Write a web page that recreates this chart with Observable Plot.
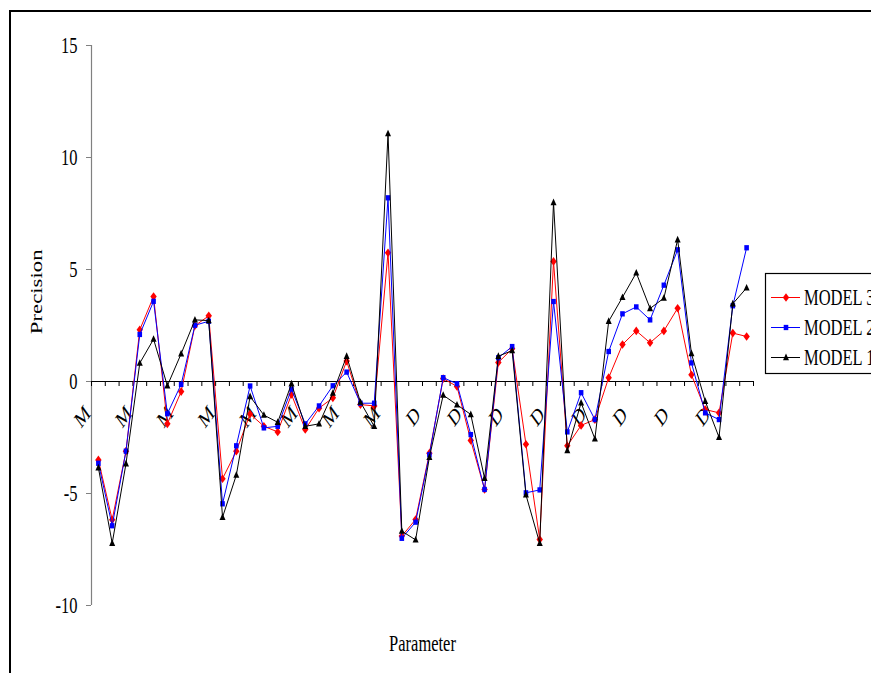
<!DOCTYPE html>
<html><head><meta charset="utf-8">
<script src="https://cdn.jsdelivr.net/npm/d3@7"></script>
<script src="https://cdn.jsdelivr.net/npm/@observablehq/plot@0.6"></script>
<style>
html,body{margin:0;padding:0;background:#fff;}
#wrap{position:relative;width:871px;height:673px;overflow:hidden;background:#fff;}
#border{position:absolute;left:9px;top:10px;width:1000px;height:1000px;border-left:2px solid #000;border-top:2px solid #000;}
#chart{position:absolute;left:0;top:0;}
#legend{position:absolute;left:0;top:0;}
</style></head><body>
<div id="wrap"><div id="border"></div><div id="chart"></div><svg id="legend" width="871" height="673"></svg></div>
<script>
// ---- data ----
const categories = [
  "M","M","M","M","M","M","M","M","M","M","M","M","M","M","M","M","M","M","M","M","M","M","M","M",
  "D","D","D","D","D","D","D","D","D","D","D","D","D","D","D","D","D","D","D","D","D","D","D","D"
];
const model3 = [-3.50,-6.17,-3.11,2.31,3.79,-1.89,-0.45,2.49,2.93,-4.34,-3.11,-1.45,-2.00,-2.25,-0.58,-2.14,-1.19,-0.73,0.91,-1.03,-1.09,5.75,-6.90,-6.16,
  -3.20,0.13,-0.22,-2.63,-4.82,0.85,1.46,-2.80,-7.05,5.36,-2.87,-1.96,-1.70,0.17,1.65,2.26,1.73,2.26,3.27,0.30,-1.25,-1.40,2.16,2.01];
const model2 = [-3.65,-6.44,-3.11,2.10,3.58,-1.44,-0.13,2.51,2.69,-5.46,-2.87,-0.20,-2.07,-2.00,-0.34,-1.89,-1.09,-0.19,0.42,-0.97,-0.97,8.20,-7.00,-6.28,
  -3.27,0.17,-0.10,-2.37,-4.82,1.06,1.56,-4.97,-4.84,3.57,-2.25,-0.50,-1.70,1.34,3.02,3.33,2.75,4.30,5.88,0.83,-1.40,-1.70,3.38,5.97];
const model1 = [-3.85,-7.22,-3.67,0.82,1.89,-0.19,1.24,2.75,2.72,-6.06,-4.18,-0.67,-1.50,-1.82,-0.10,-2.00,-1.89,-0.52,1.13,-0.92,-2.00,11.07,-6.68,-7.07,
  -3.38,-0.61,-1.04,-1.47,-4.32,1.13,1.38,-5.06,-7.22,7.99,-3.08,-0.95,-2.56,2.69,3.76,4.85,3.26,3.72,6.33,1.25,-0.88,-2.49,3.47,4.18];
const seriesNames = ["MODEL 3","MODEL 2","MODEL 1"];
const yTicks = [-10,-5,0,5,10,15];
const yTitle = "Precision";
const xTitle = "Parameter";
const labelEvery = 3;

// ---- styles ----
const colors = ["#ff0000","#0000ff","#000000"];
const FONT = "'Liberation Serif','Times New Roman',serif";
const FS = 16.5, STRETCH = 1.38;

const diamond = {draw(ctx, size){const r=Math.sqrt(size/Math.PI);const w=r,h=r*1.35;ctx.moveTo(0,-h);ctx.lineTo(w,0);ctx.lineTo(0,h);ctx.lineTo(-w,0);ctx.closePath();}};
const square = {draw(ctx, size){const r=Math.sqrt(size/Math.PI);const w=r,h=r*1.15;ctx.rect(-w,-h,2*w,2*h);}};
const triangle = {draw(ctx, size){const r=Math.sqrt(size/Math.PI);ctx.moveTo(0,-1.3*r);ctx.lineTo(r,0.9*r);ctx.lineTo(-r,0.9*r);ctx.closePath();}};
const symbols = [diamond, square, triangle];
const radii = [3.2, 2.3, 3.0];

const seriesValues = [model3, model2, model1];
const data = seriesValues.flatMap((vals, s) => vals.map((v, i) => ({series: seriesNames[s], s, i, x: i + 0.5, y: v})));
const n = categories.length;
const labelData = categories.map((c, i) => ({i, label: c})).filter(d => d.i % labelEvery === 0);

const marks = [
  Plot.ruleX([0], {stroke: "#808080", strokeWidth: 1.2}),
  Plot.axisY({ticks: yTicks, tickSize: 5, tickPadding: 9, tickFormat: d => String(d), stroke: "#808080", fill: "#000", label: null}),
  Plot.ruleY([0], {stroke: "#000", strokeWidth: 1.1}),
  Plot.ruleX(d3.range(n + 1), {x: d => d, y1: d => 0, y2: d => 0, insetTop: 5, stroke: "#000"}),
  Plot.text(labelData, {x: d => d.i + 0.5, y: d => 0, text: d => d.label, rotate: -45, dx: -16, dy: 35, fill: "#000"}),
  Plot.text([yTitle], {frameAnchor: "left", text: d => d, rotate: -90, dx: -55, dy: -3, fill: "#000"}),
  Plot.text([xTitle], {frameAnchor: "bottom", text: d => d, dy: 43, fill: "#000"})
];
seriesNames.forEach((name, s) => {
  const sd = data.filter(d => d.s === s);
  marks.push(Plot.line(sd, {x: "x", y: "y", stroke: colors[s], strokeWidth: 1}));
  marks.push(Plot.dot(sd, {x: "x", y: "y", fill: colors[s], stroke: "none", r: radii[s], symbol: symbols[s]}));
});

const chart = Plot.plot({
  width: 871, height: 673,
  marginLeft: 91, marginRight: 118, marginTop: 45, marginBottom: 68,
  x: {type: "linear", domain: [0, n], axis: null},
  y: {domain: [-10, 15], axis: null},
  style: {fontFamily: FONT, fontSize: FS + "px", background: "transparent", color: "#000", overflow: "visible"},
  marks
});
document.getElementById("chart").appendChild(chart);

// stretch text vertically (reference text is tall and narrow)
function stretchTexts(svg, k) {
  const ns = "http://www.w3.org/2000/svg";
  Array.from(svg.querySelectorAll("text")).forEach(t => {
    const parent = t.parentNode;
    const r = t.getBoundingClientRect();
    const ctm = parent.getScreenCTM();
    if (!ctm) return;
    const p = new DOMPoint(r.left + r.width / 2, r.top + r.height / 2).matrixTransform(ctm.inverse());
    const g = document.createElementNS(ns, "g");
    parent.insertBefore(g, t);
    g.appendChild(t);
    g.setAttribute("transform", `translate(0,${p.y}) scale(1,${k}) translate(0,${-p.y})`);
  });
}
stretchTexts(chart, STRETCH);

// legend
const leg = d3.select("#legend");
leg.append("rect").attr("x", 765.5).attr("y", 273.5).attr("width", 200).attr("height", 100)
  .attr("fill", "#fff").attr("stroke", "#000").attr("stroke-width", 1.2);
seriesNames.forEach((name, s) => {
  const y = 297 + 30 * s;
  leg.append("line").attr("x1", 771).attr("x2", 800).attr("y1", y + 0.5).attr("y2", y + 0.5)
    .attr("stroke", colors[s]).attr("stroke-width", 1);
  leg.append("path").attr("d", d3.symbol(symbols[s], Math.PI * radii[s] * radii[s])())
    .attr("transform", `translate(786,${y + 0.5})`).attr("fill", colors[s]);
  leg.append("text").text(name)
    .attr("transform", `translate(804,${y}) scale(1,${STRETCH})`)
    .attr("dy", "0.33em").attr("font-family", FONT).attr("font-size", FS).attr("fill", "#000");
});
</script>
</body></html>
